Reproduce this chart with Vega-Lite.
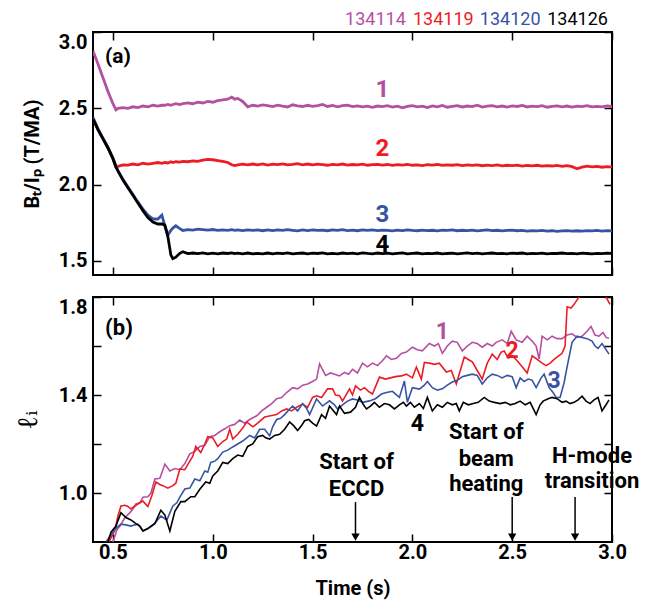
{
"$schema": "https://vega.github.io/schema/vega-lite/v6.json",
"background": "white",
"padding": {"left": 13, "top": 9, "right": 5, "bottom": 5},
"spacing": 18,
"config": {
  "font": "Roboto",
  "view": {"stroke": "black", "strokeWidth": 2},
  "axis": {"domain": false, "grid": false, "tickColor": "black", "tickWidth": 1.5, "tickSize": -8, "labelPadding": 14,
    "labelFontSize": 20, "labelFontWeight": "bold", "labelColor": "black", "titleFontSize": 20, "titleFontWeight": "bold", "titleColor": "black", "titlePadding": 16},
  "axisX": {"labelPadding": 8, "titlePadding": 16}
},
"datasets": {
  "top": [
    {"t":0.4,"134114":2.876,"134119":2.43,"134120":2.44,"134126":2.43},
    {"t":0.425,"134114":2.79,"134119":2.36,"134120":2.365,"134126":2.36},
    {"t":0.45,"134114":2.70,"134119":2.30,"134120":2.305,"134126":2.30},
    {"t":0.475,"134114":2.61,"134119":2.24,"134120":2.245,"134126":2.24},
    {"t":0.5,"134114":2.53,"134119":2.17,"134120":2.175,"134126":2.17},
    {"t":0.515,"134114":2.49,"134119":2.116,"134120":2.12,"134126":2.115},
    {"t":0.525,"134114":2.50,"134119":2.12,"134120":2.09,"134126":2.09},
    {"t":0.55,"134114":2.505,"134119":2.13,"134120":2.035,"134126":2.03},
    {"t":0.575,"134114":2.50,"134119":2.128,"134120":1.985,"134126":1.98},
    {"t":0.6,"134114":2.51,"134119":2.135,"134120":1.935,"134126":1.93},
    {"t":0.625,"134114":2.505,"134119":2.13,"134120":1.885,"134126":1.88},
    {"t":0.65,"134114":2.515,"134119":2.14,"134120":1.84,"134126":1.83},
    {"t":0.675,"134114":2.51,"134119":2.135,"134120":1.80,"134126":1.785},
    {"t":0.7,"134114":2.52,"134119":2.14,"134120":1.775,"134126":1.755},
    {"t":0.725,"134114":2.515,"134119":2.145,"134120":1.775,"134126":1.742},
    {"t":0.745,"134114":2.52,"134119":2.14,"134120":1.80,"134126":1.742},
    {"t":0.76,"134114":2.52,"134119":2.145,"134120":1.73,"134126":1.735},
    {"t":0.775,"134114":2.525,"134119":2.142,"134120":1.67,"134126":1.66},
    {"t":0.79,"134114":2.52,"134119":2.15,"134120":1.70,"134126":1.54},
    {"t":0.8,"134114":2.525,"134119":2.145,"134120":1.715,"134126":1.515},
    {"t":0.815,"134114":2.53,"134119":2.15,"134120":1.73,"134126":1.525},
    {"t":0.835,"134114":2.525,"134119":2.148,"134120":1.712,"134126":1.55},
    {"t":0.85,"134114":2.53,"134119":2.152,"134120":1.70,"134126":1.56},
    {"t":0.875,"134114":2.535,"134119":2.15,"134120":1.705,"134126":1.548},
    {"t":0.9,"134114":2.53,"134119":2.155,"134120":1.702,"134126":1.552},
    {"t":0.925,"134114":2.54,"134119":2.153,"134120":1.708,"134126":1.548},
    {"t":0.95,"134114":2.535,"134119":2.16,"134120":1.705,"134126":1.553},
    {"t":0.975,"134114":2.545,"134119":2.165,"134120":1.702,"134126":1.547},
    {"t":1.0,"134114":2.54,"134119":2.163,"134120":1.706,"134126":1.551},
    {"t":1.025,"134114":2.55,"134119":2.158,"134120":1.70,"134126":1.546},
    {"t":1.05,"134114":2.555,"134119":2.152,"134120":1.704,"134126":1.552},
    {"t":1.075,"134114":2.56,"134119":2.145,"134120":1.701,"134126":1.549},
    {"t":1.095,"134114":2.574,"134119":2.13,"134120":1.705,"134126":1.553},
    {"t":1.11,"134114":2.56,"134119":2.125,"134120":1.70,"134126":1.548},
    {"t":1.125,"134114":2.565,"134119":2.13,"134120":1.703,"134126":1.551},
    {"t":1.15,"134114":2.545,"134119":2.134,"134120":1.699,"134126":1.547},
    {"t":1.175,"134114":2.51,"134119":2.13,"134120":1.704,"134126":1.552},
    {"t":1.2,"134114":2.52,"134119":2.135,"134120":1.70,"134126":1.546},
    {"t":1.225,"134114":2.515,"134119":2.13,"134120":1.703,"134126":1.55},
    {"t":1.25,"134114":2.522,"134119":2.136,"134120":1.698,"134126":1.547},
    {"t":1.275,"134114":2.518,"134119":2.128,"134120":1.704,"134126":1.552},
    {"t":1.3,"134114":2.511,"134119":2.134,"134120":1.699,"134126":1.547},
    {"t":1.325,"134114":2.521,"134119":2.131,"134120":1.703,"134126":1.551},
    {"t":1.35,"134114":2.514,"134119":2.136,"134120":1.700,"134126":1.548},
    {"t":1.375,"134114":2.509,"134119":2.129,"134120":1.705,"134126":1.553},
    {"t":1.4,"134114":2.523,"134119":2.133,"134120":1.701,"134126":1.546},
    {"t":1.425,"134114":2.516,"134119":2.138,"134120":1.697,"134126":1.550},
    {"t":1.45,"134114":2.512,"134119":2.130,"134120":1.703,"134126":1.552},
    {"t":1.475,"134114":2.520,"134119":2.135,"134120":1.699,"134126":1.547},
    {"t":1.5,"134114":2.513,"134119":2.129,"134120":1.704,"134126":1.551},
    {"t":1.525,"134114":2.518,"134119":2.134,"134120":1.700,"134126":1.549},
    {"t":1.55,"134114":2.525,"134119":2.131,"134120":1.702,"134126":1.553},
    {"t":1.575,"134114":2.512,"134119":2.127,"134120":1.698,"134126":1.547},
    {"t":1.6,"134114":2.519,"134119":2.133,"134120":1.703,"134126":1.550},
    {"t":1.625,"134114":2.510,"134119":2.130,"134120":1.700,"134126":1.546},
    {"t":1.65,"134114":2.517,"134119":2.135,"134120":1.705,"134126":1.552},
    {"t":1.675,"134114":2.521,"134119":2.128,"134120":1.699,"134126":1.548},
    {"t":1.7,"134114":2.511,"134119":2.132,"134120":1.702,"134126":1.551},
    {"t":1.725,"134114":2.516,"134119":2.129,"134120":1.698,"134126":1.547},
    {"t":1.75,"134114":2.509,"134119":2.134,"134120":1.703,"134126":1.553},
    {"t":1.775,"134114":2.514,"134119":2.127,"134120":1.700,"134126":1.549},
    {"t":1.8,"134114":2.506,"134119":2.131,"134120":1.704,"134126":1.546},
    {"t":1.825,"134114":2.515,"134119":2.133,"134120":1.699,"134126":1.552},
    {"t":1.85,"134114":2.511,"134119":2.128,"134120":1.702,"134126":1.548},
    {"t":1.875,"134114":2.518,"134119":2.132,"134120":1.700,"134126":1.551},
    {"t":1.9,"134114":2.508,"134119":2.126,"134120":1.697,"134126":1.547},
    {"t":1.925,"134114":2.514,"134119":2.131,"134120":1.702,"134126":1.550},
    {"t":1.95,"134114":2.503,"134119":2.128,"134120":1.699,"134126":1.553},
    {"t":1.975,"134114":2.512,"134119":2.133,"134120":1.703,"134126":1.546},
    {"t":2.0,"134114":2.517,"134119":2.127,"134120":1.700,"134126":1.549},
    {"t":2.025,"134114":2.509,"134119":2.130,"134120":1.698,"134126":1.552},
    {"t":2.05,"134114":2.514,"134119":2.125,"134120":1.702,"134126":1.547},
    {"t":2.075,"134114":2.505,"134119":2.131,"134120":1.699,"134126":1.550},
    {"t":2.1,"134114":2.516,"134119":2.128,"134120":1.701,"134126":1.548},
    {"t":2.125,"134114":2.510,"134119":2.132,"134120":1.697,"134126":1.552},
    {"t":2.15,"134114":2.519,"134119":2.126,"134120":1.702,"134126":1.546},
    {"t":2.175,"134114":2.507,"134119":2.130,"134120":1.700,"134126":1.549},
    {"t":2.2,"134114":2.513,"134119":2.127,"134120":1.703,"134126":1.551},
    {"t":2.225,"134114":2.518,"134119":2.131,"134120":1.698,"134126":1.547},
    {"t":2.25,"134114":2.509,"134119":2.125,"134120":1.701,"134126":1.550},
    {"t":2.275,"134114":2.515,"134119":2.129,"134120":1.699,"134126":1.553},
    {"t":2.3,"134114":2.511,"134119":2.126,"134120":1.702,"134126":1.548},
    {"t":2.325,"134114":2.520,"134119":2.130,"134120":1.697,"134126":1.551},
    {"t":2.35,"134114":2.508,"134119":2.124,"134120":1.700,"134126":1.547},
    {"t":2.375,"134114":2.514,"134119":2.128,"134120":1.703,"134126":1.550},
    {"t":2.4,"134114":2.517,"134119":2.125,"134120":1.699,"134126":1.552},
    {"t":2.425,"134114":2.510,"134119":2.129,"134120":1.701,"134126":1.548},
    {"t":2.45,"134114":2.515,"134119":2.123,"134120":1.697,"134126":1.550},
    {"t":2.475,"134114":2.508,"134119":2.127,"134120":1.700,"134126":1.547},
    {"t":2.5,"134114":2.516,"134119":2.124,"134120":1.702,"134126":1.551},
    {"t":2.525,"134114":2.512,"134119":2.128,"134120":1.698,"134126":1.549},
    {"t":2.55,"134114":2.519,"134119":2.122,"134120":1.700,"134126":1.552},
    {"t":2.575,"134114":2.509,"134119":2.126,"134120":1.696,"134126":1.547},
    {"t":2.6,"134114":2.514,"134119":2.123,"134120":1.699,"134126":1.550},
    {"t":2.625,"134114":2.511,"134119":2.127,"134120":1.697,"134126":1.548},
    {"t":2.65,"134114":2.517,"134119":2.121,"134120":1.700,"134126":1.551},
    {"t":2.675,"134114":2.507,"134119":2.125,"134120":1.695,"134126":1.547},
    {"t":2.7,"134114":2.513,"134119":2.122,"134120":1.698,"134126":1.550},
    {"t":2.725,"134114":2.516,"134119":2.126,"134120":1.694,"134126":1.549},
    {"t":2.75,"134114":2.510,"134119":2.120,"134120":1.697,"134126":1.552},
    {"t":2.775,"134114":2.515,"134119":2.124,"134120":1.699,"134126":1.548},
    {"t":2.8,"134114":2.508,"134119":2.118,"134120":1.696,"134126":1.550},
    {"t":2.825,"134114":2.514,"134119":2.104,"134120":1.698,"134126":1.547},
    {"t":2.85,"134114":2.511,"134119":2.115,"134120":1.695,"134126":1.551},
    {"t":2.875,"134114":2.517,"134119":2.121,"134120":1.699,"134126":1.549},
    {"t":2.9,"134114":2.509,"134119":2.116,"134120":1.697,"134126":1.547},
    {"t":2.925,"134114":2.513,"134119":2.120,"134120":1.700,"134126":1.550},
    {"t":2.95,"134114":2.510,"134119":2.114,"134120":1.696,"134126":1.548},
    {"t":2.975,"134114":2.516,"134119":2.118,"134120":1.699,"134126":1.551},
    {"t":3.0,"134114":2.512,"134119":2.115,"134120":1.697,"134126":1.549}
  ],
  "toplab": [
    {"t":1.85,"v":2.62,"shot":"134114","lab":"1"},
    {"t":1.85,"v":2.234,"shot":"134119","lab":"2"},
    {"t":1.85,"v":1.80,"shot":"134120","lab":"3"},
    {"t":1.85,"v":1.605,"shot":"134126","lab":"4"}
  ],
  "leg": [
    {"t":1.815,"v":3.079,"shot":"134114"},
    {"t":2.155,"v":3.079,"shot":"134119"},
    {"t":2.49,"v":3.079,"shot":"134120"},
    {"t":2.8275,"v":3.079,"shot":"134126"}
  ],
  "toptext": [{"t":0.525,"v":2.836,"lab":"(a)"}],
  "bot": [
    {"shot":"134114","t":0.47,"v":0.74},{"shot":"134114","t":0.5,"v":0.80},{"shot":"134114","t":0.52,"v":0.85},{"shot":"134114","t":0.535,"v":0.865},{"shot":"134114","t":0.56,"v":0.90},{"shot":"134114","t":0.585,"v":0.92},{"shot":"134114","t":0.6,"v":0.935},{"shot":"134114","t":0.615,"v":0.955},{"shot":"134114","t":0.635,"v":0.96},{"shot":"134114","t":0.65,"v":0.983},{"shot":"134114","t":0.675,"v":0.985},{"shot":"134114","t":0.69,"v":1.0},{"shot":"134114","t":0.71,"v":1.057},{"shot":"134114","t":0.735,"v":1.06},{"shot":"134114","t":0.76,"v":1.118},{"shot":"134114","t":0.785,"v":1.09},{"shot":"134114","t":0.81,"v":1.10},{"shot":"134114","t":0.835,"v":1.095},{"shot":"134114","t":0.86,"v":1.12},{"shot":"134114","t":0.885,"v":1.16},{"shot":"134114","t":0.91,"v":1.17},{"shot":"134114","t":0.935,"v":1.19},{"shot":"134114","t":0.96,"v":1.195},{"shot":"134114","t":0.985,"v":1.23},{"shot":"134114","t":1.01,"v":1.235},{"shot":"134114","t":1.035,"v":1.25},{"shot":"134114","t":1.06,"v":1.262},{"shot":"134114","t":1.085,"v":1.275},{"shot":"134114","t":1.11,"v":1.28},{"shot":"134114","t":1.135,"v":1.298},{"shot":"134114","t":1.16,"v":1.285},{"shot":"134114","t":1.185,"v":1.30},{"shot":"134114","t":1.22,"v":1.315},{"shot":"134114","t":1.245,"v":1.335},{"shot":"134114","t":1.27,"v":1.35},{"shot":"134114","t":1.295,"v":1.365},{"shot":"134114","t":1.32,"v":1.385},{"shot":"134114","t":1.345,"v":1.39},{"shot":"134114","t":1.37,"v":1.41},{"shot":"134114","t":1.4,"v":1.43},{"shot":"134114","t":1.425,"v":1.425},{"shot":"134114","t":1.45,"v":1.44},{"shot":"134114","t":1.475,"v":1.445},{"shot":"134114","t":1.5,"v":1.455},{"shot":"134114","t":1.52,"v":1.465},{"shot":"134114","t":1.535,"v":1.527},{"shot":"134114","t":1.565,"v":1.48},{"shot":"134114","t":1.59,"v":1.49},{"shot":"134114","t":1.61,"v":1.485},{"shot":"134114","t":1.635,"v":1.478},{"shot":"134114","t":1.66,"v":1.492},{"shot":"134114","t":1.68,"v":1.485},{"shot":"134114","t":1.7,"v":1.505},{"shot":"134114","t":1.725,"v":1.49},{"shot":"134114","t":1.75,"v":1.53},{"shot":"134114","t":1.775,"v":1.515},{"shot":"134114","t":1.8,"v":1.53},{"shot":"134114","t":1.825,"v":1.52},{"shot":"134114","t":1.85,"v":1.54},{"shot":"134114","t":1.87,"v":1.56},{"shot":"134114","t":1.895,"v":1.545},{"shot":"134114","t":1.92,"v":1.55},{"shot":"134114","t":1.945,"v":1.57},{"shot":"134114","t":1.97,"v":1.575},{"shot":"134114","t":2.0,"v":1.595},{"shot":"134114","t":2.025,"v":1.585},{"shot":"134114","t":2.05,"v":1.58},{"shot":"134114","t":2.085,"v":1.61},{"shot":"134114","t":2.11,"v":1.60},{"shot":"134114","t":2.13,"v":1.61},{"shot":"134114","t":2.15,"v":1.57},{"shot":"134114","t":2.175,"v":1.60},{"shot":"134114","t":2.2,"v":1.62},{"shot":"134114","t":2.225,"v":1.615},{"shot":"134114","t":2.25,"v":1.58},{"shot":"134114","t":2.275,"v":1.60},{"shot":"134114","t":2.3,"v":1.615},{"shot":"134114","t":2.325,"v":1.61},{"shot":"134114","t":2.35,"v":1.595},{"shot":"134114","t":2.375,"v":1.61},{"shot":"134114","t":2.4,"v":1.60},{"shot":"134114","t":2.42,"v":1.615},{"shot":"134114","t":2.45,"v":1.625},{"shot":"134114","t":2.475,"v":1.61},{"shot":"134114","t":2.495,"v":1.66},{"shot":"134114","t":2.52,"v":1.625},{"shot":"134114","t":2.55,"v":1.615},{"shot":"134114","t":2.575,"v":1.64},{"shot":"134114","t":2.6,"v":1.62},{"shot":"134114","t":2.62,"v":1.60},{"shot":"134114","t":2.635,"v":1.547},{"shot":"134114","t":2.65,"v":1.64},{"shot":"134114","t":2.675,"v":1.625},{"shot":"134114","t":2.7,"v":1.64},{"shot":"134114","t":2.725,"v":1.63},{"shot":"134114","t":2.75,"v":1.63},{"shot":"134114","t":2.775,"v":1.645},{"shot":"134114","t":2.8,"v":1.65},{"shot":"134114","t":2.825,"v":1.635},{"shot":"134114","t":2.85,"v":1.64},{"shot":"134114","t":2.875,"v":1.66},{"shot":"134114","t":2.895,"v":1.68},{"shot":"134114","t":2.915,"v":1.645},{"shot":"134114","t":2.935,"v":1.64},{"shot":"134114","t":2.955,"v":1.655},{"shot":"134114","t":2.97,"v":1.635},{"shot":"134114","t":2.985,"v":1.632},
    {"shot":"134119","t":0.44,"v":0.76},{"shot":"134119","t":0.48,"v":0.80},{"shot":"134119","t":0.51,"v":0.85},{"shot":"134119","t":0.525,"v":0.906},{"shot":"134119","t":0.54,"v":0.947},{"shot":"134119","t":0.56,"v":0.95},{"shot":"134119","t":0.575,"v":0.945},{"shot":"134119","t":0.59,"v":0.935},{"shot":"134119","t":0.615,"v":0.95},{"shot":"134119","t":0.635,"v":0.96},{"shot":"134119","t":0.65,"v":0.967},{"shot":"134119","t":0.675,"v":0.945},{"shot":"134119","t":0.695,"v":0.99},{"shot":"134119","t":0.715,"v":1.045},{"shot":"134119","t":0.735,"v":1.035},{"shot":"134119","t":0.75,"v":1.03},{"shot":"134119","t":0.775,"v":1.02},{"shot":"134119","t":0.8,"v":1.03},{"shot":"134119","t":0.815,"v":1.04},{"shot":"134119","t":0.835,"v":1.098},{"shot":"134119","t":0.86,"v":1.095},{"shot":"134119","t":0.885,"v":1.13},{"shot":"134119","t":0.9,"v":1.15},{"shot":"134119","t":0.915,"v":1.19},{"shot":"134119","t":0.94,"v":1.165},{"shot":"134119","t":0.96,"v":1.20},{"shot":"134119","t":0.975,"v":1.23},{"shot":"134119","t":1.0,"v":1.225},{"shot":"134119","t":1.025,"v":1.19},{"shot":"134119","t":1.05,"v":1.21},{"shot":"134119","t":1.07,"v":1.22},{"shot":"134119","t":1.085,"v":1.26},{"shot":"134119","t":1.1,"v":1.22},{"shot":"134119","t":1.125,"v":1.24},{"shot":"134119","t":1.15,"v":1.265},{"shot":"134119","t":1.17,"v":1.29},{"shot":"134119","t":1.2,"v":1.27},{"shot":"134119","t":1.225,"v":1.285},{"shot":"134119","t":1.26,"v":1.31},{"shot":"134119","t":1.29,"v":1.315},{"shot":"134119","t":1.32,"v":1.32},{"shot":"134119","t":1.345,"v":1.335},{"shot":"134119","t":1.37,"v":1.343},{"shot":"134119","t":1.395,"v":1.335},{"shot":"134119","t":1.42,"v":1.35},{"shot":"134119","t":1.45,"v":1.363},{"shot":"134119","t":1.475,"v":1.35},{"shot":"134119","t":1.5,"v":1.39},{"shot":"134119","t":1.52,"v":1.397},{"shot":"134119","t":1.545,"v":1.39},{"shot":"134119","t":1.575,"v":1.425},{"shot":"134119","t":1.6,"v":1.425},{"shot":"134119","t":1.615,"v":1.40},{"shot":"134119","t":1.635,"v":1.397},{"shot":"134119","t":1.65,"v":1.375},{"shot":"134119","t":1.685,"v":1.425},{"shot":"134119","t":1.7,"v":1.40},{"shot":"134119","t":1.715,"v":1.437},{"shot":"134119","t":1.74,"v":1.42},{"shot":"134119","t":1.76,"v":1.43},{"shot":"134119","t":1.78,"v":1.415},{"shot":"134119","t":1.8,"v":1.404},{"shot":"134119","t":1.835,"v":1.473},{"shot":"134119","t":1.865,"v":1.465},{"shot":"134119","t":1.89,"v":1.47},{"shot":"134119","t":1.915,"v":1.475},{"shot":"134119","t":1.945,"v":1.478},{"shot":"134119","t":1.97,"v":1.485},{"shot":"134119","t":2.0,"v":1.47},{"shot":"134119","t":2.02,"v":1.514},{"shot":"134119","t":2.045,"v":1.465},{"shot":"134119","t":2.06,"v":1.533},{"shot":"134119","t":2.085,"v":1.53},{"shot":"134119","t":2.11,"v":1.525},{"shot":"134119","t":2.135,"v":1.53},{"shot":"134119","t":2.17,"v":1.494},{"shot":"134119","t":2.195,"v":1.50},{"shot":"134119","t":2.22,"v":1.445},{"shot":"134119","t":2.26,"v":1.555},{"shot":"134119","t":2.28,"v":1.545},{"shot":"134119","t":2.3,"v":1.535},{"shot":"134119","t":2.325,"v":1.50},{"shot":"134119","t":2.35,"v":1.465},{"shot":"134119","t":2.375,"v":1.53},{"shot":"134119","t":2.4,"v":1.567},{"shot":"134119","t":2.425,"v":1.545},{"shot":"134119","t":2.445,"v":1.575},{"shot":"134119","t":2.46,"v":1.58},{"shot":"134119","t":2.48,"v":1.55},{"shot":"134119","t":2.5,"v":1.56},{"shot":"134119","t":2.525,"v":1.54},{"shot":"134119","t":2.55,"v":1.515},{"shot":"134119","t":2.575,"v":1.49},{"shot":"134119","t":2.6,"v":1.56},{"shot":"134119","t":2.625,"v":1.545},{"shot":"134119","t":2.65,"v":1.53},{"shot":"134119","t":2.67,"v":1.52},{"shot":"134119","t":2.69,"v":1.53},{"shot":"134119","t":2.71,"v":1.545},{"shot":"134119","t":2.725,"v":1.555},{"shot":"134119","t":2.75,"v":1.57},{"shot":"134119","t":2.765,"v":1.60},{"shot":"134119","t":2.775,"v":1.76},{"shot":"134119","t":2.795,"v":1.755},{"shot":"134119","t":2.81,"v":1.77},{"shot":"134119","t":2.835,"v":1.80},{"shot":"134119","t":2.86,"v":1.86},{"shot":"134119","t":2.9,"v":1.88},{"shot":"134119","t":2.94,"v":1.87},{"shot":"134119","t":2.97,"v":1.80},{"shot":"134119","t":2.99,"v":1.77},
    {"shot":"134120","t":0.44,"v":0.77},{"shot":"134120","t":0.465,"v":0.80},{"shot":"134120","t":0.5,"v":0.84},{"shot":"134120","t":0.52,"v":0.86},{"shot":"134120","t":0.54,"v":0.873},{"shot":"134120","t":0.565,"v":0.87},{"shot":"134120","t":0.59,"v":0.865},{"shot":"134120","t":0.61,"v":0.87},{"shot":"134120","t":0.625,"v":0.873},{"shot":"134120","t":0.65,"v":0.845},{"shot":"134120","t":0.675,"v":0.855},{"shot":"134120","t":0.695,"v":0.865},{"shot":"134120","t":0.715,"v":0.882},{"shot":"134120","t":0.74,"v":0.906},{"shot":"134120","t":0.77,"v":0.89},{"shot":"134120","t":0.8,"v":0.947},{"shot":"134120","t":0.82,"v":0.96},{"shot":"134120","t":0.835,"v":0.983},{"shot":"134120","t":0.86,"v":1.016},{"shot":"134120","t":0.885,"v":1.02},{"shot":"134120","t":0.91,"v":1.057},{"shot":"134120","t":0.935,"v":1.05},{"shot":"134120","t":0.96,"v":1.09},{"shot":"134120","t":0.975,"v":1.085},{"shot":"134120","t":0.99,"v":1.125},{"shot":"134120","t":1.01,"v":1.13},{"shot":"134120","t":1.025,"v":1.14},{"shot":"134120","t":1.05,"v":1.167},{"shot":"134120","t":1.075,"v":1.175},{"shot":"134120","t":1.1,"v":1.188},{"shot":"134120","t":1.125,"v":1.20},{"shot":"134120","t":1.15,"v":1.212},{"shot":"134120","t":1.17,"v":1.225},{"shot":"134120","t":1.185,"v":1.235},{"shot":"134120","t":1.21,"v":1.225},{"shot":"134120","t":1.235,"v":1.26},{"shot":"134120","t":1.26,"v":1.26},{"shot":"134120","t":1.285,"v":1.233},{"shot":"134120","t":1.3,"v":1.27},{"shot":"134120","t":1.32,"v":1.30},{"shot":"134120","t":1.34,"v":1.305},{"shot":"134120","t":1.36,"v":1.32},{"shot":"134120","t":1.385,"v":1.343},{"shot":"134120","t":1.4,"v":1.355},{"shot":"134120","t":1.425,"v":1.335},{"shot":"134120","t":1.45,"v":1.365},{"shot":"134120","t":1.47,"v":1.345},{"shot":"134120","t":1.485,"v":1.32},{"shot":"134120","t":1.52,"v":1.384},{"shot":"134120","t":1.55,"v":1.355},{"shot":"134120","t":1.585,"v":1.376},{"shot":"134120","t":1.61,"v":1.36},{"shot":"134120","t":1.625,"v":1.343},{"shot":"134120","t":1.65,"v":1.36},{"shot":"134120","t":1.675,"v":1.375},{"shot":"134120","t":1.7,"v":1.384},{"shot":"134120","t":1.725,"v":1.38},{"shot":"134120","t":1.75,"v":1.37},{"shot":"134120","t":1.785,"v":1.376},{"shot":"134120","t":1.815,"v":1.385},{"shot":"134120","t":1.845,"v":1.404},{"shot":"134120","t":1.87,"v":1.41},{"shot":"134120","t":1.9,"v":1.415},{"shot":"134120","t":1.935,"v":1.39},{"shot":"134120","t":1.96,"v":1.457},{"shot":"134120","t":1.975,"v":1.37},{"shot":"134120","t":2.0,"v":1.43},{"shot":"134120","t":2.035,"v":1.424},{"shot":"134120","t":2.06,"v":1.44},{"shot":"134120","t":2.075,"v":1.455},{"shot":"134120","t":2.1,"v":1.43},{"shot":"134120","t":2.125,"v":1.42},{"shot":"134120","t":2.15,"v":1.425},{"shot":"134120","t":2.175,"v":1.44},{"shot":"134120","t":2.2,"v":1.453},{"shot":"134120","t":2.225,"v":1.46},{"shot":"134120","t":2.25,"v":1.475},{"shot":"134120","t":2.275,"v":1.48},{"shot":"134120","t":2.3,"v":1.485},{"shot":"134120","t":2.325,"v":1.48},{"shot":"134120","t":2.35,"v":1.445},{"shot":"134120","t":2.375,"v":1.47},{"shot":"134120","t":2.4,"v":1.485},{"shot":"134120","t":2.425,"v":1.48},{"shot":"134120","t":2.45,"v":1.47},{"shot":"134120","t":2.475,"v":1.48},{"shot":"134120","t":2.5,"v":1.475},{"shot":"134120","t":2.52,"v":1.43},{"shot":"134120","t":2.54,"v":1.47},{"shot":"134120","t":2.56,"v":1.455},{"shot":"134120","t":2.58,"v":1.465},{"shot":"134120","t":2.6,"v":1.46},{"shot":"134120","t":2.62,"v":1.43},{"shot":"134120","t":2.645,"v":1.47},{"shot":"134120","t":2.66,"v":1.485},{"shot":"134120","t":2.685,"v":1.43},{"shot":"134120","t":2.705,"v":1.41},{"shot":"134120","t":2.72,"v":1.39},{"shot":"134120","t":2.74,"v":1.39},{"shot":"134120","t":2.76,"v":1.45},{"shot":"134120","t":2.775,"v":1.515},{"shot":"134120","t":2.8,"v":1.615},{"shot":"134120","t":2.825,"v":1.64},{"shot":"134120","t":2.85,"v":1.635},{"shot":"134120","t":2.875,"v":1.63},{"shot":"134120","t":2.9,"v":1.62},{"shot":"134120","t":2.915,"v":1.60},{"shot":"134120","t":2.93,"v":1.59},{"shot":"134120","t":2.95,"v":1.61},{"shot":"134120","t":2.97,"v":1.585},{"shot":"134120","t":2.985,"v":1.567},
    {"shot":"134126","t":0.41,"v":0.79},{"shot":"134126","t":0.45,"v":0.795},{"shot":"134126","t":0.475,"v":0.80},{"shot":"134126","t":0.49,"v":0.84},{"shot":"134126","t":0.515,"v":0.865},{"shot":"134126","t":0.54,"v":0.92},{"shot":"134126","t":0.565,"v":0.90},{"shot":"134126","t":0.59,"v":0.89},{"shot":"134126","t":0.615,"v":0.875},{"shot":"134126","t":0.635,"v":0.865},{"shot":"134126","t":0.65,"v":0.845},{"shot":"134126","t":0.675,"v":0.855},{"shot":"134126","t":0.69,"v":0.865},{"shot":"134126","t":0.71,"v":0.875},{"shot":"134126","t":0.74,"v":0.93},{"shot":"134126","t":0.76,"v":0.91},{"shot":"134126","t":0.785,"v":0.845},{"shot":"134126","t":0.81,"v":0.925},{"shot":"134126","t":0.84,"v":0.965},{"shot":"134126","t":0.86,"v":0.965},{"shot":"134126","t":0.89,"v":0.985},{"shot":"134126","t":0.91,"v":0.985},{"shot":"134126","t":0.935,"v":1.015},{"shot":"134126","t":0.965,"v":1.045},{"shot":"134126","t":0.985,"v":1.04},{"shot":"134126","t":1.0,"v":1.07},{"shot":"134126","t":1.025,"v":1.09},{"shot":"134126","t":1.05,"v":1.125},{"shot":"134126","t":1.075,"v":1.12},{"shot":"134126","t":1.1,"v":1.14},{"shot":"134126","t":1.125,"v":1.155},{"shot":"134126","t":1.15,"v":1.15},{"shot":"134126","t":1.175,"v":1.19},{"shot":"134126","t":1.2,"v":1.20},{"shot":"134126","t":1.225,"v":1.23},{"shot":"134126","t":1.25,"v":1.235},{"shot":"134126","t":1.265,"v":1.225},{"shot":"134126","t":1.285,"v":1.22},{"shot":"134126","t":1.31,"v":1.235},{"shot":"134126","t":1.335,"v":1.24},{"shot":"134126","t":1.36,"v":1.26},{"shot":"134126","t":1.385,"v":1.29},{"shot":"134126","t":1.405,"v":1.275},{"shot":"134126","t":1.425,"v":1.255},{"shot":"134126","t":1.445,"v":1.275},{"shot":"134126","t":1.46,"v":1.295},{"shot":"134126","t":1.48,"v":1.30},{"shot":"134126","t":1.5,"v":1.285},{"shot":"134126","t":1.52,"v":1.273},{"shot":"134126","t":1.545,"v":1.32},{"shot":"134126","t":1.565,"v":1.305},{"shot":"134126","t":1.585,"v":1.355},{"shot":"134126","t":1.6,"v":1.34},{"shot":"134126","t":1.62,"v":1.32},{"shot":"134126","t":1.635,"v":1.355},{"shot":"134126","t":1.66,"v":1.325},{"shot":"134126","t":1.69,"v":1.33},{"shot":"134126","t":1.715,"v":1.35},{"shot":"134126","t":1.735,"v":1.39},{"shot":"134126","t":1.755,"v":1.36},{"shot":"134126","t":1.77,"v":1.343},{"shot":"134126","t":1.79,"v":1.355},{"shot":"134126","t":1.81,"v":1.37},{"shot":"134126","t":1.835,"v":1.35},{"shot":"134126","t":1.86,"v":1.365},{"shot":"134126","t":1.885,"v":1.36},{"shot":"134126","t":1.91,"v":1.343},{"shot":"134126","t":1.935,"v":1.36},{"shot":"134126","t":1.955,"v":1.37},{"shot":"134126","t":1.97,"v":1.355},{"shot":"134126","t":1.99,"v":1.37},{"shot":"134126","t":2.01,"v":1.35},{"shot":"134126","t":2.035,"v":1.365},{"shot":"134126","t":2.055,"v":1.345},{"shot":"134126","t":2.075,"v":1.39},{"shot":"134126","t":2.1,"v":1.335},{"shot":"134126","t":2.125,"v":1.36},{"shot":"134126","t":2.15,"v":1.35},{"shot":"134126","t":2.175,"v":1.37},{"shot":"134126","t":2.2,"v":1.36},{"shot":"134126","t":2.22,"v":1.365},{"shot":"134126","t":2.235,"v":1.335},{"shot":"134126","t":2.255,"v":1.37},{"shot":"134126","t":2.28,"v":1.36},{"shot":"134126","t":2.305,"v":1.365},{"shot":"134126","t":2.33,"v":1.37},{"shot":"134126","t":2.36,"v":1.39},{"shot":"134126","t":2.385,"v":1.375},{"shot":"134126","t":2.41,"v":1.37},{"shot":"134126","t":2.44,"v":1.365},{"shot":"134126","t":2.465,"v":1.37},{"shot":"134126","t":2.49,"v":1.36},{"shot":"134126","t":2.515,"v":1.365},{"shot":"134126","t":2.54,"v":1.375},{"shot":"134126","t":2.565,"v":1.36},{"shot":"134126","t":2.59,"v":1.37},{"shot":"134126","t":2.62,"v":1.32},{"shot":"134126","t":2.64,"v":1.36},{"shot":"134126","t":2.655,"v":1.375},{"shot":"134126","t":2.68,"v":1.385},{"shot":"134126","t":2.7,"v":1.39},{"shot":"134126","t":2.725,"v":1.385},{"shot":"134126","t":2.75,"v":1.37},{"shot":"134126","t":2.77,"v":1.375},{"shot":"134126","t":2.79,"v":1.365},{"shot":"134126","t":2.81,"v":1.37},{"shot":"134126","t":2.83,"v":1.38},{"shot":"134126","t":2.85,"v":1.395},{"shot":"134126","t":2.87,"v":1.375},{"shot":"134126","t":2.89,"v":1.365},{"shot":"134126","t":2.91,"v":1.38},{"shot":"134126","t":2.93,"v":1.39},{"shot":"134126","t":2.95,"v":1.335},{"shot":"134126","t":2.97,"v":1.36},{"shot":"134126","t":2.985,"v":1.38}
  ],
  "botlab": [
    {"t":2.15,"v":1.657,"shot":"134114","lab":"1"},
    {"t":2.5,"v":1.58,"shot":"134119","lab":"2"},
    {"t":2.71,"v":1.457,"shot":"134120","lab":"3"},
    {"t":2.025,"v":1.28,"shot":"134126","lab":"4"}
  ],
  "bottext": [
    {"t":0.53,"v":1.673,"lab":"(b)"},
    {"t":1.72,"v":1.127,"lab":"Start of"},
    {"t":1.72,"v":1.016,"lab":"ECCD"},
    {"t":2.37,"v":1.249,"lab":"Start of"},
    {"t":2.37,"v":1.139,"lab":"beam"},
    {"t":2.37,"v":1.037,"lab":"heating"},
    {"t":2.9,"v":1.151,"lab":"H-mode"},
    {"t":2.9,"v":1.049,"lab":"transition"}
  ],
  "arrows": [
    {"t":1.715,"v":0.963,"v2":0.82},
    {"t":2.5,"v":0.984,"v2":0.82},
    {"t":2.815,"v":0.984,"v2":0.82}
  ]
},
"vconcat": [
  {
    "width": 519, "height": 243,
    "layer": [
      {
        "data": {"name": "top"},
        "transform": [{"fold": ["134114","134119","134120","134126"], "as": ["shot","v"]}],
        "mark": {"type": "line", "strokeWidth": 2.8, "clip": true},
        "encoding": {
          "x": {"field": "t", "type": "quantitative", "scale": {"domain": [0.4, 3.0], "nice": false, "zero": false},
                "axis": {"orient": "bottom", "values": [0.5,1,1.5,2,2.5,3], "labels": false, "title": null}},
          "y": {"field": "v", "type": "quantitative", "scale": {"domain": [1.408, 3.0], "nice": false, "zero": false},
                "axis": {"orient": "left", "values": [1.5,2,2.5,3], "format": ".1f", "labelFlush": true, "title": "Bₜ/Iₚ (T/MA)"}},
          "color": {"field": "shot", "type": "nominal",
                "scale": {"domain": ["134114","134119","134120","134126"], "range": ["#b5509f","#ed1c24","#3953a4","#000000"]},
                "legend": null}
        }
      },
      {
        "data": {"name": "toplab"},
        "mark": {"type": "text", "fontSize": 24, "fontWeight": "bold"},
        "encoding": {
          "x": {"field": "t", "type": "quantitative", "scale": {"domain": [0.4, 3.0], "nice": false, "zero": false},
                "axis": {"orient": "top", "values": [0.5,1,1.5,2,2.5,3], "labels": false, "title": null}},
          "y": {"field": "v", "type": "quantitative", "scale": {"domain": [1.408, 3.0], "nice": false, "zero": false},
                "axis": {"orient": "right", "values": [1.5,2,2.5,3], "labels": false, "title": null}},
          "text": {"field": "lab"},
          "color": {"field": "shot", "type": "nominal", "legend": null}
        }
      },
      {
        "data": {"name": "leg"},
        "mark": {"type": "text", "fontSize": 18, "fontWeight": "normal"},
        "encoding": {
          "x": {"field": "t", "type": "quantitative", "axis": null},
          "y": {"field": "v", "type": "quantitative", "axis": null},
          "text": {"field": "shot"},
          "color": {"field": "shot", "type": "nominal", "legend": null}
        }
      },
      {
        "data": {"name": "toptext"},
        "mark": {"type": "text", "fontSize": 21, "fontWeight": "bold", "color": "black"},
        "encoding": {
          "x": {"field": "t", "type": "quantitative", "axis": null},
          "y": {"field": "v", "type": "quantitative", "axis": null},
          "text": {"field": "lab"}
        }
      }
    ],
    "resolve": {"axis": {"x": "independent", "y": "independent"}}
  },
  {
    "width": 519, "height": 245,
    "layer": [
      {
        "data": {"name": "bot"},
        "mark": {"type": "line", "strokeWidth": 1.6, "clip": true},
        "encoding": {
          "x": {"field": "t", "type": "quantitative", "scale": {"domain": [0.4, 3.0], "nice": false, "zero": false},
                "axis": {"orient": "bottom", "values": [0.5,1,1.5,2,2.5,3], "format": ".1f", "labelFlush": false, "title": "Time (s)"}},
          "y": {"field": "v", "type": "quantitative", "scale": {"domain": [0.8, 1.8], "nice": false, "zero": false},
                "axis": {"orient": "left", "values": [1.0,1.2,1.4,1.6,1.8], "labelFlush": true,
                  "labelExpr": "datum.value == 1.2 || datum.value == 1.6 ? '' : format(datum.value, '.1f')",
                  "title": "ℓᵢ", "titleFont": "DejaVu Serif", "titleFontWeight": "normal", "titleFontSize": 28}},
          "color": {"field": "shot", "type": "nominal",
                "scale": {"domain": ["134114","134119","134120","134126"], "range": ["#b5509f","#ed1c24","#3953a4","#000000"]},
                "legend": null}
        }
      },
      {
        "data": {"name": "botlab"},
        "mark": {"type": "text", "fontSize": 23, "fontWeight": "bold"},
        "encoding": {
          "x": {"field": "t", "type": "quantitative", "scale": {"domain": [0.4, 3.0], "nice": false, "zero": false},
                "axis": {"orient": "top", "values": [0.5,1,1.5,2,2.5,3], "labels": false, "title": null}},
          "y": {"field": "v", "type": "quantitative", "scale": {"domain": [0.8, 1.8], "nice": false, "zero": false},
                "axis": {"orient": "right", "values": [1.0,1.2,1.4,1.6,1.8], "labels": false, "title": null}},
          "text": {"field": "lab"},
          "color": {"field": "shot", "type": "nominal", "legend": null}
        }
      },
      {
        "data": {"name": "bottext"},
        "mark": {"type": "text", "fontSize": 22, "fontWeight": "bold", "color": "black"},
        "encoding": {
          "x": {"field": "t", "type": "quantitative", "axis": null},
          "y": {"field": "v", "type": "quantitative", "axis": null},
          "text": {"field": "lab"}
        }
      },
      {
        "data": {"name": "arrows"},
        "mark": {"type": "rule", "color": "black", "strokeWidth": 1.5},
        "encoding": {
          "x": {"field": "t", "type": "quantitative", "axis": null},
          "y": {"field": "v", "type": "quantitative", "axis": null},
          "y2": {"field": "v2"}
        }
      },
      {
        "data": {"name": "arrows"},
        "mark": {"type": "point", "shape": "triangle-down", "filled": true, "color": "black", "size": 70, "opacity": 1},
        "encoding": {
          "x": {"field": "t", "type": "quantitative", "axis": null},
          "y": {"field": "v2", "type": "quantitative", "axis": null}
        }
      }
    ],
    "resolve": {"axis": {"x": "independent", "y": "independent"}}
  }
]
}
